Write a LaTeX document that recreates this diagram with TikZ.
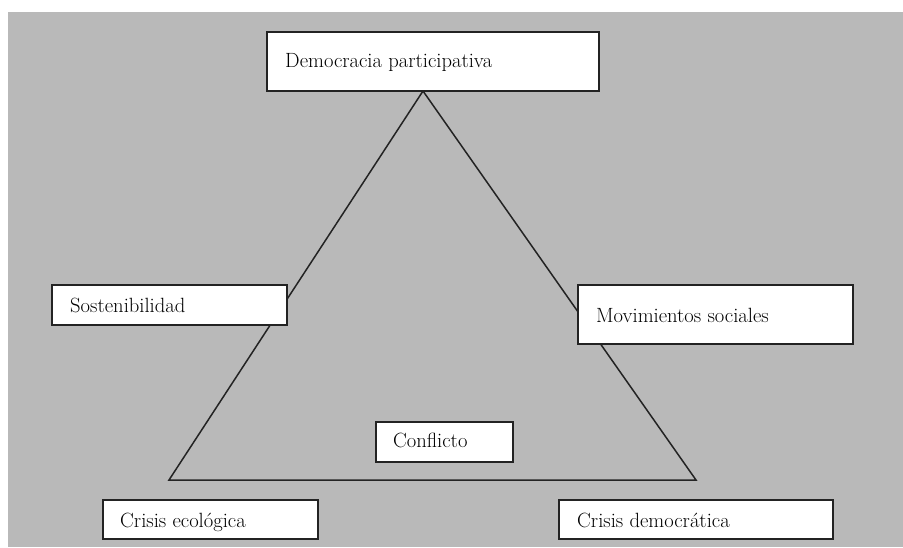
\documentclass[tikz,border=0pt]{standalone}
\usetikzlibrary{positioning}
\definecolor{panel}{RGB}{185,185,185}
\definecolor{ink}{RGB}{35,35,35}
\begin{document}
\begin{tikzpicture}[x=1pt,y=-1pt,
  edge/.style={draw=ink,line width=1.5pt,line join=miter},
  card/.style={draw=ink,fill=white,line width=1.7pt,rectangle,inner sep=0pt},
  caption/.style={anchor=base west,inner sep=0pt,font=\fontsize{20.6}{24}\selectfont}]
  % page and grey panel
  \useasboundingbox (0,0) rectangle (903,547);
  \fill[white] (0,0) rectangle (903,547);
  \fill[panel] (8,12) rectangle (903,547);

  % triangle corners
  \coordinate (apex) at (423,91);
  \coordinate (bl) at (169,480);
  \coordinate (br) at (696,480);
  \draw[edge] (apex) -- (bl) -- (br) -- cycle;

  % boxes
  \node[card,minimum width=332pt,minimum height=59pt] (demo) at (433,61.5) {};
  \node[caption] (demo-t) at (285,67) {Democracia participativa};

  \node[card,minimum width=235pt,minimum height=40pt] (sost) at (169.5,305) {};
  \node[caption] (sost-t) at (70,312) {Sostenibilidad};

  \node[card,minimum width=275pt,minimum height=59pt] (movi) at (715.5,314.5) {};
  \node[caption] (movi-t) at (596,322) {Movimientos sociales};

  \node[card,minimum width=137pt,minimum height=40pt] (conf) at (444.5,442) {};
  \node[caption] (conf-t) at (393,447) {Conflicto};

  \node[card,minimum width=215pt,minimum height=39pt] (eco) at (210.5,519.5) {};
  \node[caption] (eco-t) at (120,527) {Crisis ecológica};

  \node[card,minimum width=274pt,minimum height=39pt] (dem) at (696,519.5) {};
  \node[caption] (dem-t) at (577,527) {Crisis democrática};
\end{tikzpicture}
\end{document}
